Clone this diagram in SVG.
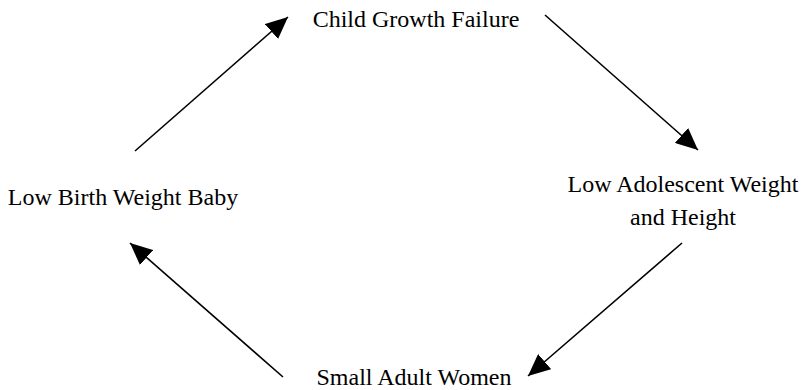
<svg xmlns="http://www.w3.org/2000/svg" width="802" height="390" viewBox="0 0 802 390">
<style>
text{font-family:"Liberation Serif","Times New Roman",serif;font-size:24px;fill:#000;text-anchor:middle}
.c line{stroke:#000;stroke-width:1.6;fill:none}
</style>
<defs>
<marker id="ah" viewBox="0 0 22 20" refX="22" refY="10" markerWidth="22" markerHeight="20" markerUnits="userSpaceOnUse" orient="auto">
<path d="M0,0 L22,10 L0,20 Z" fill="#000"/>
</marker>
</defs>
<rect width="802" height="390" fill="#fff"/>
<g id="n1"><text x="416" y="27">Child Growth Failure</text></g>
<g id="n2"><text x="683" y="192">Low Adolescent Weight</text><text x="683" y="225">and Height</text></g>
<g id="n3"><text x="414" y="385">Small Adult Women</text></g>
<g id="n4"><text x="123" y="205">Low Birth Weight Baby</text></g>
<g class="c" id="connectors">
<line x1="135" y1="151" x2="288" y2="17" marker-end="url(#ah)"/>
<line x1="545" y1="15" x2="698" y2="150" marker-end="url(#ah)"/>
<line x1="682" y1="243" x2="528" y2="376" marker-end="url(#ah)"/>
<line x1="283" y1="377" x2="130" y2="243" marker-end="url(#ah)"/>
</g>
</svg>
